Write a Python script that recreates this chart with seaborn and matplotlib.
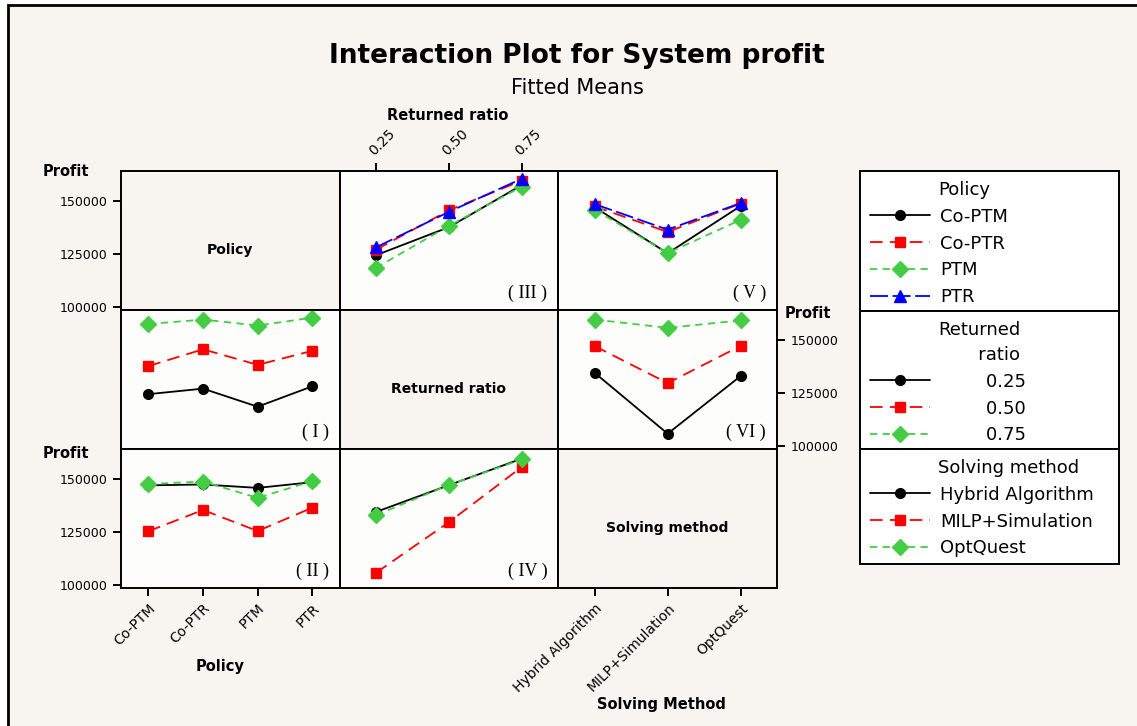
import numpy as np
import pandas as pd
import matplotlib.pyplot as plt
import seaborn as sns
from matplotlib.lines import Line2D
from matplotlib.patches import Rectangle

# factor levels
policies = ["Co-PTM", "Co-PTR", "PTM", "PTR"]
ratios = ["0.25", "0.50", "0.75"]
methods = ["Hybrid Algorithm", "MILP+Simulation", "OptQuest"]

# fitted means (rows follow the first factor)
policy_by_ratio = [
    [124400, 137600, 157400],
    [127000, 145500, 159500],
    [118500, 138200, 156700],
    [128100, 144800, 160400],
]
policy_by_method = [
    [146900, 125300, 147500],
    [147300, 135300, 148700],
    [145700, 125400, 141000],
    [148400, 136400, 148900],
]
ratio_by_method = [
    [134400, 105800, 132900],
    [147000, 129600, 147100],
    [159500, 155600, 159100],
]

y_ticks = [100000, 125000, 150000]
panel_tags = {(0, 1): "( III )", (0, 2): "( V )", (1, 0): "( I )",
              (1, 2): "( VI )", (2, 0): "( II )", (2, 1): "( IV )"}

# styles for 1st..4th level of any factor
colors = ["black", "#ff0000", "#44cc44", "#0000ff"]
markers = ["o", "s", "D", "^"]
dashes = ["-", (0, (7, 4)), (0, (4, 3)), (0, (10, 2.5))]
msizes = [7, 7.5, 8, 9]


def table(rows, cols, values, rname, cname):
    df = pd.DataFrame(values, index=rows, columns=cols)
    df.index.name = rname
    df.columns.name = cname
    return df.stack().rename("Profit").reset_index()


df_pr = table(policies, ratios, policy_by_ratio, "Policy", "Ratio")
df_pm = table(policies, methods, policy_by_method, "Policy", "Method")
df_rm = table(ratios, methods, ratio_by_method, "Ratio", "Method")

levels = {"Policy": policies, "Ratio": ratios, "Method": methods}

# (row, col) -> data, x factor, trace factor
panels = {
    (0, 1): (df_pr, "Ratio", "Policy"),
    (0, 2): (df_pm, "Method", "Policy"),
    (1, 0): (df_pr, "Policy", "Ratio"),
    (1, 2): (df_rm, "Method", "Ratio"),
    (2, 0): (df_pm, "Policy", "Method"),
    (2, 1): (df_rm, "Ratio", "Method"),
}

sns.set_style("white")
plt.rcParams["font.family"] = ["DejaVu Sans"]
plt.rcParams["text.color"] = "black"
plt.rcParams["xtick.color"] = "black"
plt.rcParams["ytick.color"] = "black"
bg = "#f8f5f1"

fig, axes = plt.subplots(3, 3, figsize=(11.37, 7.26), dpi=100,
                         gridspec_kw=dict(wspace=0, hspace=0))
fig.patch.set_facecolor("white")
fig.patches.append(Rectangle((8 / 1137, -0.01), 1.1, 1 - 5 / 726 + 0.01,
                             transform=fig.transFigure, facecolor=bg,
                             edgecolor="black", linewidth=2, zorder=-10))
fig.subplots_adjust(left=121 / 1137, right=777 / 1137,
                    top=1 - 171 / 726, bottom=1 - 588 / 726)

for i in range(3):
    for j in range(3):
        ax = axes[i, j]
        for s in ax.spines.values():
            s.set_color("black")
            s.set_linewidth(1.4)
        ax.set_ylim(98600, 164000)
        if (i, j) in panels:
            df, xf, hf = panels[(i, j)]
            ax.set_facecolor("#fdfdfc")
            for k, lev in enumerate(levels[hf]):
                sub = df[df[hf] == lev]
                sns.pointplot(data=sub, x=xf, y="Profit", order=levels[xf],
                              color=colors[k], marker=markers[k],
                              linestyle=dashes[k], markersize=msizes[k],
                              linewidth=1.3, errorbar=None, ax=ax)
            ax.set_xlim(-0.5, len(levels[xf]) - 0.5)
            ax.text(0.95, 0.06, panel_tags[(i, j)], transform=ax.transAxes,
                    ha="right", va="bottom", fontsize=13,
                    family="Liberation Serif")
        else:
            ax.set_facecolor(bg)
            name = ["Policy", "Returned ratio", "Solving method"][i]
            ax.text(0.5, 0.435, name, transform=ax.transAxes, ha="center",
                    va="center", fontsize=10, fontweight="bold")
            ax.set_xlim(-0.5, [4, 3, 3][i] - 0.5)
        ax.set_xlabel("")
        ax.set_ylabel("")
        ax.set_xticks([])
        ax.set_yticks([])

tick_kw = dict(length=6, width=1.4, direction="out", labelsize=9)

# y axes: row 1 and 3 on left, row 2 on right
for ax in [axes[0, 0], axes[2, 0]]:
    ax.set_yticks(y_ticks)
    ax.set_yticklabels([str(t) for t in y_ticks])
    ax.tick_params(axis="y", left=True, **tick_kw)
ax = axes[1, 2]
ax.yaxis.tick_right()
ax.set_yticks(y_ticks)
ax.set_yticklabels([str(t) for t in y_ticks])
ax.tick_params(axis="y", right=True, **tick_kw)

# x axes: policy bottom-left, ratio top-middle, method bottom-right
xtick_kw = dict(tick_kw, labelsize=10)
ax = axes[2, 0]
ax.set_xticks(range(len(policies)))
ax.set_xticklabels(policies, rotation=45, ha="right", rotation_mode="anchor")
ax.tick_params(axis="x", bottom=True, **xtick_kw)
ax = axes[2, 2]
ax.set_xticks(range(len(methods)))
ax.set_xticklabels(methods, rotation=45, ha="right", rotation_mode="anchor")
ax.tick_params(axis="x", bottom=True, **xtick_kw)
ax = axes[0, 1]
ax.xaxis.tick_top()
ax.set_xticks(range(len(ratios)))
ax.set_xticklabels(ratios, rotation=45, ha="left", rotation_mode="anchor")
ax.tick_params(axis="x", top=True, **xtick_kw)

# axis titles
fig.text(43 / 1137, 1 - 172 / 726, "Profit", fontsize=10.5, fontweight="bold", va="center")
fig.text(43 / 1137, 1 - 453 / 726, "Profit", fontsize=10.5, fontweight="bold", va="center")
fig.text(785 / 1137, 1 - 313 / 726, "Profit", fontsize=10.5, fontweight="bold", va="center")
fig.text(448 / 1137, 1 - 116 / 726, "Returned ratio", fontsize=10.5,
         fontweight="bold", ha="center", va="center")
fig.text(220 / 1137, 1 - 667 / 726, "Policy", fontsize=10.5,
         fontweight="bold", ha="center", va="center")
fig.text(661 / 1137, 1 - 705 / 726, "Solving Method", fontsize=10.5,
         fontweight="bold", ha="center", va="center")

fig.text(577 / 1137, 1 - 56 / 726, "Interaction Plot for System profit",
         fontsize=19, fontweight="bold", ha="center", va="center")
fig.text(577 / 1137, 1 - 88 / 726, "Fitted Means", fontsize=15,
         ha="center", va="center")

# legend boxes on the right
boxes = [(171, 311, "Policy", policies),
         (311, 449, "Returned\n       ratio", ["        " + r for r in ratios]),
         (449, 564, "Solving method", methods)]
for top, bot, title, labs in boxes:
    lax = fig.add_axes([860 / 1137, 1 - bot / 726, 259 / 1137, (bot - top) / 726])
    lax.set_xticks([])
    lax.set_yticks([])
    lax.set_facecolor("white")
    for s in lax.spines.values():
        s.set_color("black")
        s.set_linewidth(1.4)
    handles = [Line2D([], [], color=colors[k], marker=markers[k],
                      linestyle=dashes[k], markersize=msizes[k], linewidth=1.3)
               for k in range(len(labs))]
    leg = lax.legend(handles, labs, title=title, loc="upper left",
                     frameon=False, fontsize=13, title_fontsize=13,
                     handlelength=3.3, labelspacing=0.49, borderaxespad=0.15,
                     handletextpad=0.6, alignment="left")
    leg.get_title().set_position((68, 0))
    leg.get_title().set_linespacing(1.5)

fig.savefig("out.png", dpi=100, facecolor=fig.get_facecolor())
